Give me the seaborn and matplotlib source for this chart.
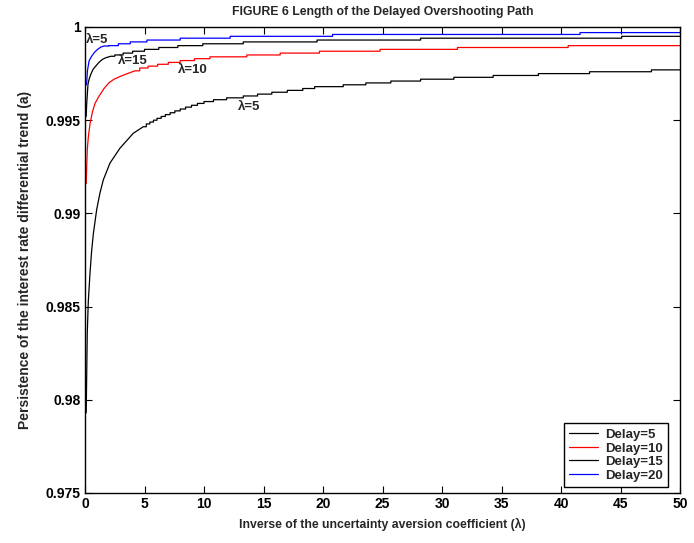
import numpy as np
import pandas as pd
import matplotlib
matplotlib.use("Agg")
import matplotlib.pyplot as plt
import seaborn as sns
from matplotlib.ticker import FuncFormatter

# Persistence a versus lambda for each delay length.
# Smooth rising part (lam, a), then the quantised plateau part:
# level a_step[i] holds from lam_step[i] onwards.
lam_d5 = [0.1, 0.19, 0.28, 0.42, 0.56, 0.70, 0.98, 1.26, 1.54, 2.1, 2.94, 4.06, 4.9]
a_d5 = [0.9793, 0.9836, 0.9853, 0.9868, 0.9880, 0.9889, 0.9902, 0.9911, 0.9918,
        0.9927, 0.9935, 0.9943, 0.99465]
lam_step_d5 = [5.15, 5.45, 5.75, 6.05, 6.4, 6.75, 7.15, 7.55, 8.0, 8.45,
               8.95, 9.45, 10.0, 10.8, 11.9, 13.3, 14.5, 15.7, 17.0, 18.3,
               19.3, 21.7, 23.6, 25.7, 28.2, 31.0, 34.3, 38.1, 42.4, 47.6]
a_step_d5 = [0.9948, 0.9949, 0.9950, 0.9951, 0.9952, 0.9953, 0.9954, 0.9955, 0.9956, 0.9957,
             0.9958, 0.9959, 0.9960, 0.9961, 0.9962, 0.9963, 0.9964, 0.9965, 0.9966, 0.9967,
             0.9968, 0.9969, 0.9970, 0.9971, 0.9972, 0.9973, 0.9974, 0.9975, 0.9976, 0.9977]

lam_d10 = [0.1, 0.19, 0.28, 0.42, 0.62, 0.84, 1.18, 1.6, 2.02, 2.44, 3.0, 3.56, 4.2]
a_d10 = [0.9916, 0.9934, 0.9941, 0.9948, 0.99543, 0.9959, 0.99629, 0.9967, 0.99701,
         0.9972, 0.99736, 0.9975, 0.99765]
lam_step_d10 = [4.6, 5.3, 6.1, 7.0, 8.0, 9.2, 10.5, 13.6, 16.4, 19.7, 24.8, 31.3, 40.6]
a_step_d10 = [0.9978, 0.9979, 0.9980, 0.9981, 0.9982, 0.9983, 0.9984, 0.9985,
              0.9986, 0.9987, 0.9988, 0.9989, 0.9990]

lam_d15 = [0.1, 0.14, 0.25, 0.34, 0.48, 0.67, 0.9, 1.18, 1.46, 1.74, 2.16]
a_d15 = [0.9952, 0.99585, 0.99692, 0.99719, 0.99745, 0.99772, 0.9979, 0.99811,
         0.99826, 0.99835, 0.99843]
lam_step_d15 = [2.5, 3.2, 4.0, 5.0, 6.2, 7.8, 9.9, 13.3, 19.5, 28.2, 45.1]
a_step_d15 = [0.9985, 0.9986, 0.9987, 0.9988, 0.9989, 0.9990, 0.9991, 0.9992,
              0.9993, 0.9994, 0.9995]

lam_d20 = [0.12, 0.14, 0.2, 0.34, 0.48, 0.62, 0.81, 1.04, 1.32, 1.6]
a_d20 = [0.9969, 0.99696, 0.99763, 0.99817, 0.99835, 0.99849, 0.99865, 0.99879,
         0.99892, 0.99898]
lam_step_d20 = [2.0, 2.8, 3.8, 5.2, 8.0, 12.2, 20.8, 41.6]
a_step_d20 = [0.9990, 0.9991, 0.9992, 0.9993, 0.9994, 0.9995, 0.9996, 0.9997]

lam_max = 50
series_names = ["Delay=5", "Delay=10", "Delay=15", "Delay=20"]
series_colors = ["#000000", "#ff0000", "#000000", "#0000ff"]

curve_labels = ["\u03bb=5", "\u03bb=15", "\u03bb=10", "\u03bb=5"]
curve_label_pos = [(0.08, 0.99930), (2.75, 0.99820), (7.8, 0.99767), (12.85, 0.99569)]


def build_curve(lam, a, lam_step, a_step):
    xs = list(lam)
    ys = list(a)
    prev = a[-1]
    for x, level in zip(lam_step, a_step):
        xs += [x, x]
        ys += [prev, level]
        prev = level
    xs.append(lam_max)
    ys.append(prev)
    return xs, ys


raw = [
    (lam_d5, a_d5, lam_step_d5, a_step_d5),
    (lam_d10, a_d10, lam_step_d10, a_step_d10),
    (lam_d15, a_d15, lam_step_d15, a_step_d15),
    (lam_d20, a_d20, lam_step_d20, a_step_d20),
]
frames = []
for name, parts in zip(series_names, raw):
    xs, ys = build_curve(*parts)
    frames.append(pd.DataFrame({"lam": xs, "a": ys, "delay": name}))
df = pd.concat(frames, ignore_index=True)

sns.set_theme(style="ticks")
plt.rcParams["font.family"] = ["Liberation Sans", "DejaVu Sans"]
plt.rcParams["font.weight"] = "bold"

fig = plt.figure(figsize=(6.94, 5.43), dpi=100)
ax = fig.add_axes([85 / 694, 1 - 493 / 543, 595 / 694, 466 / 543])

sns.lineplot(data=df, x="lam", y="a", hue="delay", hue_order=series_names,
             palette=dict(zip(series_names, series_colors)), units="delay",
             estimator=None, sort=False, linewidth=0.9, ax=ax, legend=False)

ax.set_xlim(0, 50)
ax.set_ylim(0.975, 1.0)
ax.set_xticks(np.arange(0, 51, 5))
ax.set_yticks([0.975, 0.98, 0.985, 0.99, 0.995, 1.0])
ax.yaxis.set_major_formatter(FuncFormatter(lambda v, p: f"{v:g}"))
ax.tick_params(direction="in", length=5, width=0.8, top=True, right=True,
               labelsize=10, colors="black", pad=3)
for lbl in ax.get_xticklabels() + ax.get_yticklabels():
    lbl.set_fontweight("bold")
for s in ax.spines.values():
    s.set_color("black")
    s.set_linewidth(1.0)

ax.set_title("FIGURE 6 Length of the Delayed Overshooting Path", fontsize=8.8,
             fontweight="bold", pad=9)
ax.set_xlabel("Inverse of the uncertainty aversion coefficient (\u03bb)", fontsize=8.8,
              fontweight="bold", labelpad=5)
ax.set_ylabel("Persistence of the interest rate differential trend (a)", fontsize=10,
              fontweight="bold", labelpad=10)

for text, (x, y) in zip(curve_labels, curve_label_pos):
    ax.text(x, y, text, fontsize=9.5, fontweight="bold", ha="left", va="center")

handles = [plt.Line2D([], [], color=c, linewidth=0.9) for c in series_colors]
leg = ax.legend(handles, series_names, loc="lower right", bbox_to_anchor=(0.98, 0.013),
                borderaxespad=0, fancybox=False, framealpha=1, edgecolor="black",
                fontsize=9.5, handlelength=2.2, handletextpad=0.5, labelspacing=0.1,
                borderpad=0.4)
leg.get_frame().set_linewidth(1.0)
for t in leg.get_texts():
    t.set_fontweight("bold")

fig.savefig("out.png", dpi=100, facecolor="white")
